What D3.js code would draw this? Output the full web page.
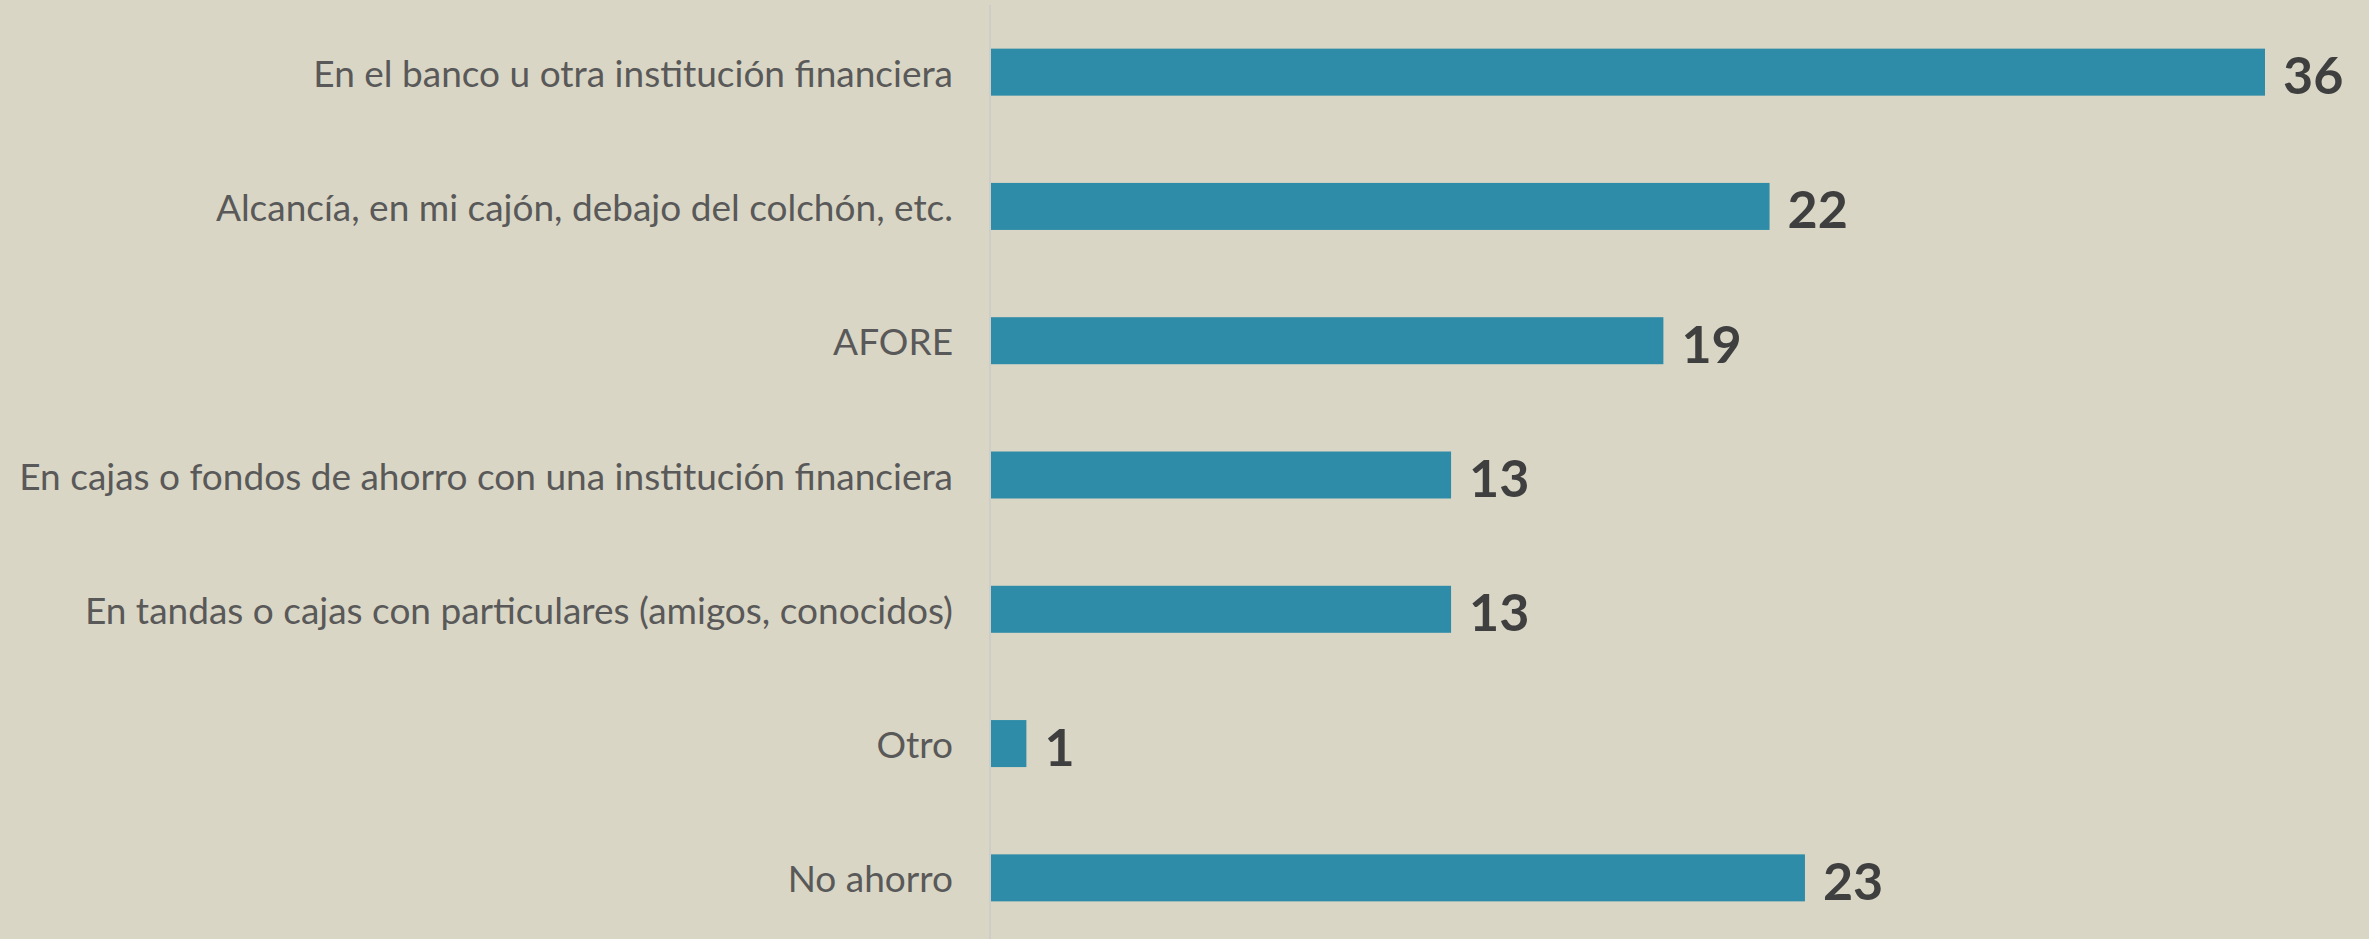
<!DOCTYPE html>
<html>
<head>
<meta charset="utf-8">
<script src="https://cdn.jsdelivr.net/npm/d3@7"></script>
<style>
  html, body { margin: 0; padding: 0; background: #d9d6c5; }
  svg { display: block; }
  .label { font-family: Lato, "Open Sans", sans-serif; fill: #595959; }
  .value { font-family: Lato, "Open Sans", sans-serif; font-weight: 700; fill: #3f3f3f; }
</style>
</head>
<body>
<svg id="chart" width="2369" height="939"></svg>
<script>
const categories = [
    'En el banco u otra institución financiera',
    'Alcancía, en mi cajón, debajo del colchón, etc.',
    'AFORE',
    'En cajas o fondos de ahorro con una institución financiera',
    'En tandas o cajas con particulares (amigos, conocidos)',
    'Otro',
    'No ahorro'
];
const values = [36, 22, 19, 13, 13, 1, 23];

const width = 2369, height = 939;
const axisX = 990;

let svg = d3.select('#chart');

let x = d3.scaleLinear()
    .domain([0, 36])
    .range([axisX + 1, 2265]);

let y = d3.scaleBand()
    .domain(categories)
    .range([5, 945])
    .paddingInner(0.65)
    .paddingOuter(0.325);

// vertical axis line
svg.append('line')
    .attr('x1', axisX).attr('x2', axisX)
    .attr('y1', 5).attr('y2', height)
    .attr('stroke', '#cfcdc8')
    .attr('stroke-width', 2);

svg.append('g').selectAll('rect')
    .data(values)
    .join('rect')
    .attr('x', x(0))
    .attr('y', (d, i) => y(categories[i]))
    .attr('width', d => x(d) - x(0))
    .attr('height', y.bandwidth())
    .attr('fill', '#2e8ca8');

svg.append('g').selectAll('text')
    .data(categories)
    .join('text')
    .classed('label', true)
    .attr('x', axisX - 37)
    .attr('y', d => y(d) + y.bandwidth() / 2)
    .attr('text-anchor', 'end')
    .attr('dominant-baseline', 'central')
    .attr('font-size', 37)
    .text(d => d);

svg.append('g').selectAll('text')
    .data(values)
    .join('text')
    .classed('value', true)
    .attr('x', d => x(d) + 18)
    .attr('y', (d, i) => y(categories[i]) + y.bandwidth() / 2 + 2)
    .attr('dominant-baseline', 'central')
    .attr('font-size', 52)
    .text(d => d);
</script>
</body>
</html>
